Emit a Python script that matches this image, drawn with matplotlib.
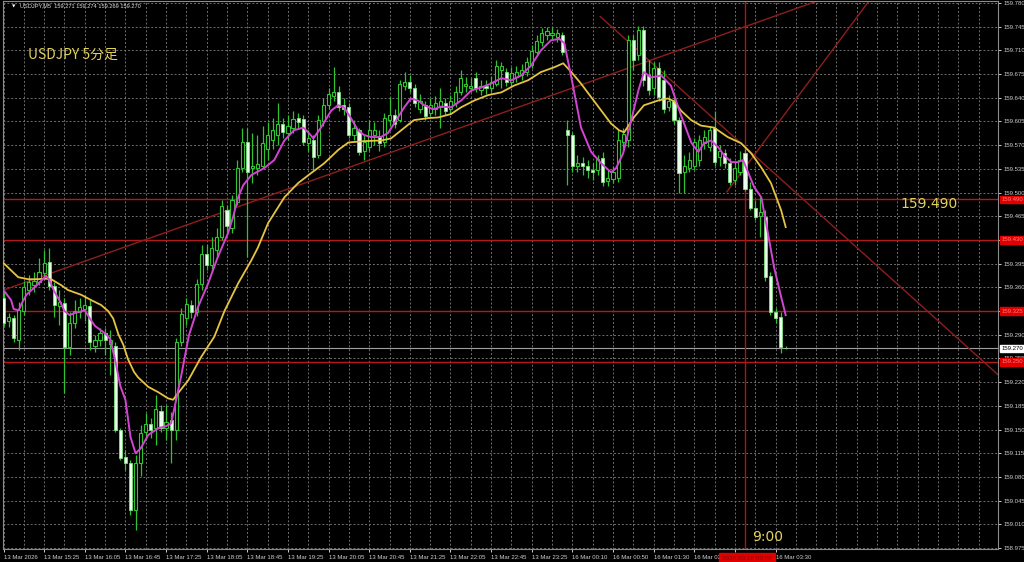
import matplotlib
matplotlib.use('Agg')
import matplotlib.pyplot as plt
import numpy as np

# USDJPY M5 bars, 13 Mar 14:45 -> 16 Mar 03:40 (server time)
opens = [159.344, 159.311, 159.314, 159.282, 159.325, 159.356, 159.363, 159.368, 159.381, 159.397,
         159.362, 159.332, 159.337, 159.272, 159.307, 159.323, 159.328, 159.332, 159.273, 159.282,
         159.292, 159.277, 159.274, 159.149, 159.109, 159.100, 159.031, 159.100, 159.146, 159.158,
         159.152, 159.178, 159.152, 159.164, 159.149, 159.279, 159.314, 159.334, 159.323, 159.365,
         159.410, 159.393, 159.415, 159.435, 159.474, 159.448, 159.486, 159.536, 159.574, 159.536,
         159.537, 159.539, 159.565, 159.577, 159.585, 159.602, 159.588, 159.595, 159.610, 159.608,
         159.573, 159.577, 159.555, 159.605, 159.630, 159.642, 159.649, 159.629, 159.626, 159.585,
         159.592, 159.562, 159.568, 159.585, 159.583, 159.574, 159.607, 159.614, 159.607, 159.658,
         159.663, 159.654, 159.624, 159.630, 159.618, 159.624, 159.627, 159.633, 159.624, 159.633,
         159.648, 159.657, 159.654, 159.669, 159.652, 159.658, 159.654, 159.661, 159.681, 159.678,
         159.664, 159.670, 159.673, 159.678, 159.688, 159.708, 159.722, 159.733, 159.733, 159.730,
         159.733, 159.592, 159.585, 159.540, 159.543, 159.540, 159.534, 159.533, 159.551, 159.517,
         159.520, 159.521, 159.574, 159.577, 159.725, 159.703, 159.740, 159.673, 159.654, 159.684,
         159.666, 159.627, 159.636, 159.607, 159.530, 159.537, 159.540, 159.548, 159.573, 159.567,
         159.595, 159.552, 159.558, 159.543, 159.518, 159.530, 159.558, 159.506, 159.477, 159.466,
         159.464, 159.377, 159.323, 159.316, 159.271]
highs = [159.356, 159.322, 159.319, 159.338, 159.370, 159.378, 159.382, 159.403, 159.415, 159.418,
         159.368, 159.356, 159.344, 159.323, 159.341, 159.344, 159.349, 159.341, 159.289, 159.300,
         159.300, 159.297, 159.279, 159.152, 159.120, 159.105, 159.112, 159.156, 159.174, 159.167,
         159.201, 159.186, 159.186, 159.176, 159.285, 159.329, 159.344, 159.341, 159.373, 159.422,
         159.422, 159.434, 159.448, 159.489, 159.481, 159.496, 159.548, 159.595, 159.596, 159.588,
         159.585, 159.599, 159.604, 159.610, 159.633, 159.610, 159.614, 159.621, 159.618, 159.614,
         159.592, 159.585, 159.614, 159.639, 159.654, 159.685, 159.658, 159.639, 159.632, 159.607,
         159.596, 159.585, 159.607, 159.604, 159.592, 159.618, 159.641, 159.624, 159.666, 159.678,
         159.673, 159.660, 159.645, 159.636, 159.639, 159.642, 159.654, 159.639, 159.644, 159.658,
         159.681, 159.670, 159.669, 159.678, 159.666, 159.666, 159.672, 159.696, 159.693, 159.684,
         159.685, 159.687, 159.690, 159.700, 159.718, 159.733, 159.743, 159.744, 159.744, 159.742,
         159.737, 159.607, 159.589, 159.555, 159.552, 159.548, 159.543, 159.555, 159.560, 159.533,
         159.540, 159.592, 159.595, 159.733, 159.733, 159.746, 159.746, 159.696, 159.693, 159.693,
         159.681, 159.644, 159.641, 159.611, 159.555, 159.560, 159.580, 159.585, 159.592, 159.599,
         159.621, 159.570, 159.565, 159.551, 159.545, 159.562, 159.565, 159.516, 159.489, 159.493,
         159.474, 159.382, 159.329, 159.323, 159.274]
lows = [159.303, 159.301, 159.279, 159.267, 159.319, 159.349, 159.353, 159.363, 159.373, 159.356,
        159.316, 159.304, 159.204, 159.260, 159.300, 159.314, 159.311, 159.267, 159.264, 159.274,
        159.260, 159.230, 159.146, 159.105, 159.090, 159.024, 159.002, 159.082, 159.134, 159.137,
        159.127, 159.146, 159.134, 159.100, 159.134, 159.274, 159.304, 159.314, 159.317, 159.356,
        159.385, 159.382, 159.403, 159.430, 159.441, 159.441, 159.481, 159.530, 159.405, 159.514,
        159.526, 159.536, 159.548, 159.565, 159.570, 159.580, 159.577, 159.588, 159.595, 159.570,
        159.562, 159.533, 159.551, 159.598, 159.624, 159.636, 159.621, 159.614, 159.580, 159.577,
        159.555, 159.548, 159.562, 159.570, 159.562, 159.568, 159.599, 159.595, 159.604, 159.651,
        159.648, 159.627, 159.618, 159.607, 159.613, 159.615, 159.596, 159.614, 159.618, 159.627,
        159.644, 159.648, 159.648, 159.648, 159.644, 159.646, 159.648, 159.657, 159.655, 159.657,
        159.658, 159.663, 159.666, 159.672, 159.684, 159.703, 159.716, 159.725, 159.725, 159.722,
        159.703, 159.511, 159.530, 159.530, 159.526, 159.521, 159.518, 159.526, 159.509, 159.509,
        159.514, 159.516, 159.562, 159.567, 159.681, 159.696, 159.658, 159.644, 159.644, 159.636,
        159.618, 159.621, 159.602, 159.500, 159.500, 159.530, 159.533, 159.540, 159.565, 159.562,
        159.540, 159.540, 159.536, 159.511, 159.511, 159.526, 159.503, 159.474, 159.459, 159.434,
        159.370, 159.319, 159.308, 159.263, 159.269]
closes = [159.308, 159.316, 159.285, 159.326, 159.360, 159.368, 159.370, 159.382, 159.396, 159.362,
          159.334, 159.338, 159.272, 159.307, 159.325, 159.331, 159.334, 159.279, 159.282, 159.292,
          159.282, 159.282, 159.149, 159.108, 159.100, 159.031, 159.100, 159.145, 159.158, 159.149,
          159.181, 159.152, 159.161, 159.149, 159.279, 159.320, 159.335, 159.323, 159.365, 159.410,
          159.393, 159.418, 159.435, 159.480, 159.451, 159.489, 159.536, 159.574, 159.530, 159.540,
          159.542, 159.573, 159.585, 159.592, 159.602, 159.589, 159.599, 159.608, 159.604, 159.574,
          159.580, 159.552, 159.607, 159.630, 159.645, 159.649, 159.626, 159.624, 159.585, 159.595,
          159.560, 159.574, 159.592, 159.592, 159.573, 159.610, 159.615, 159.602, 159.660, 159.664,
          159.654, 159.632, 159.635, 159.613, 159.629, 159.632, 159.636, 159.621, 159.635, 159.649,
          159.669, 159.661, 159.658, 159.654, 159.658, 159.654, 159.663, 159.687, 159.687, 159.663,
          159.676, 159.678, 159.681, 159.693, 159.709, 159.724, 159.736, 159.739, 159.736, 159.736,
          159.708, 159.585, 159.540, 159.543, 159.539, 159.533, 159.530, 159.549, 159.516, 159.521,
          159.530, 159.577, 159.586, 159.725, 159.696, 159.740, 159.666, 159.651, 159.684, 159.641,
          159.624, 159.636, 159.607, 159.529, 159.540, 159.548, 159.574, 159.577, 159.582, 159.592,
          159.545, 159.562, 159.543, 159.516, 159.536, 159.548, 159.506, 159.477, 159.464, 159.471,
          159.375, 159.323, 159.314, 159.272, 159.270]

# fast MA (magenta) at bar positions
ma_fast_x = [0, 1.5, 2, 3, 3.5, 4.5, 6.4, 8.4, 9, 10, 11, 12, 13, 14, 16, 17, 18, 20, 21, 22, 23, 24,
             25, 26, 27, 28.5, 30.5, 32, 33, 34, 35, 36.5, 38.3, 40.3, 42.2, 44.2, 45.2, 46.2, 47.2,
             48.8, 51.3, 53.3, 55.3, 57.2, 59, 60, 61, 62.5, 64.5, 65.9, 67, 68.4, 69.8, 71, 72.4,
             74.3, 75.7, 76.9, 78.9, 80.2, 81.6, 82.8, 84.6, 86.2, 88.1, 90.1, 92.1, 94, 96, 98, 100,
             101.9, 103.9, 105.8, 107.8, 109.4, 110.4, 111.8, 113.7, 115.7, 117.7, 119.6, 120.6, 122,
             123.2, 125, 126.1, 127.5, 129.5, 131.4, 133.4, 135.4, 136.8, 137.9, 139.3, 140.7, 141.9,
             143.3, 144.6, 145.6, 146.6, 147.8, 149.2, 150.5, 151.7, 153.1, 154]
ma_fast_y = [159.356, 159.341, 159.328, 159.326, 159.335, 159.349, 159.362, 159.377, 159.371, 159.354,
             159.341, 159.325, 159.319, 159.322, 159.326, 159.314, 159.303, 159.292, 159.284, 159.252,
             159.214, 159.194, 159.139, 159.115, 159.122, 159.142, 159.152, 159.155, 159.159, 159.194,
             159.230, 159.289, 159.331, 159.366, 159.405, 159.440, 159.464, 159.493, 159.511, 159.526,
             159.536, 159.548, 159.577, 159.592, 159.596, 159.589, 159.580, 159.596, 159.621, 159.629,
             159.626, 159.610, 159.592, 159.585, 159.582, 159.582, 159.588, 159.602, 159.626, 159.639,
             159.636, 159.629, 159.623, 159.627, 159.626, 159.636, 159.651, 159.655, 159.661, 159.669,
             159.666, 159.673, 159.688, 159.710, 159.725, 159.727, 159.721, 159.670, 159.596, 159.560,
             159.543, 159.530, 159.536, 159.558, 159.595, 159.651, 159.678, 159.670, 159.673, 159.658,
             159.614, 159.574, 159.560, 159.573, 159.577, 159.567, 159.555, 159.545, 159.545, 159.548,
             159.530, 159.508, 159.493, 159.440, 159.390, 159.346, 159.319]

# slow MA (yellow)
ma_slow_x = [0, 1.5, 2.9, 4.9, 6.8, 8, 9.4, 11.4, 12.7, 15.3, 17.3, 19.2, 20.6, 21.6, 22.6, 23.6, 24.5,
             25.7, 26.5, 28.5, 30.5, 32.4, 33.4, 34.4, 36.4, 38.9, 41.5, 43.5, 46.2, 48.8, 50.1, 52.1,
             55.3, 58, 60.6, 63.1, 65.9, 67.9, 71, 74.4, 76.3, 78.3, 80.8, 83.6, 85.6, 88.1, 90.1, 92.7,
             95.4, 98, 100.5, 103.3, 105.8, 108.4, 110.2, 111.8, 113.7, 115.7, 117.7, 119.6, 121.2,
             122.2, 124.1, 126.1, 128.9, 130.8, 132, 133.4, 135.4, 137.3, 139.9, 142.6, 145.2, 147.2,
             149.2, 151.1, 153.1, 154]
ma_slow_y = [159.396, 159.385, 159.375, 159.372, 159.372, 159.373, 159.372, 159.363, 159.356, 159.349,
             159.341, 159.334, 159.325, 159.314, 159.291, 159.275, 159.254, 159.235, 159.227, 159.213,
             159.205, 159.196, 159.194, 159.204, 159.223, 159.257, 159.287, 159.325, 159.366, 159.400,
             159.419, 159.455, 159.493, 159.514, 159.529, 159.543, 159.563, 159.574, 159.576, 159.577,
             159.580, 159.592, 159.607, 159.610, 159.611, 159.616, 159.626, 159.636, 159.644, 159.648,
             159.658, 159.666, 159.678, 159.685, 159.691, 159.678, 159.661, 159.641, 159.621, 159.602,
             159.592, 159.589, 159.611, 159.629, 159.636, 159.639, 159.635, 159.621, 159.607, 159.599,
             159.596, 159.582, 159.573, 159.558, 159.537, 159.514, 159.474, 159.449]

hlines = [159.490, 159.430, 159.325, 159.250]
bid = 159.270

# trend lines: two points (bar, price)
trend_long = [(0, 159.356), (160.6, 159.784)]
trend_down = [(117.5, 159.760), (195.8, 159.231)]
trend_steep = [(142.4, 159.501), (170.5, 159.784)]
vline_bar = 146

time_ticks = [0, 8, 16, 24, 32, 40, 48, 56, 64, 72, 80, 88, 96, 104, 112, 120, 128, 136, 144, 152]
time_labels = ['13 Mar 2026', '13 Mar 15:25', '13 Mar 16:05', '13 Mar 16:45', '13 Mar 17:25',
               '13 Mar 18:05', '13 Mar 18:45', '13 Mar 19:25', '13 Mar 20:05', '13 Mar 20:45',
               '13 Mar 21:25', '13 Mar 22:05', '13 Mar 22:45', '13 Mar 23:25', '16 Mar 00:10',
               '16 Mar 00:50', '16 Mar 01:30', '16 Mar 02:10', '16 Mar 02:50', '16 Mar 03:30']
price_ticks = [158.975, 159.010, 159.045, 159.080, 159.115, 159.150, 159.185, 159.220, 159.255,
               159.290, 159.325, 159.360, 159.395, 159.430, 159.465, 159.500, 159.535, 159.570,
               159.605, 159.640, 159.675, 159.710, 159.745, 159.780]

GREEN = '#2fc42f'
RED_LINE = '#b01a1a'
TREND = '#8e1e1e'
YEL = '#e2d25a'
SMALL = 'Liberation Sans'
cjk = ['Noto Sans CJK JP', 'DejaVu Sans']

fig = plt.figure(figsize=(10.24, 5.62), dpi=100, facecolor='black')
ax = fig.add_axes([3/1024, 13/562, 995/1024, 548/562])
ax.set_facecolor('black')
ax.set_xlim(-0.1, 195.8)
ax.set_ylim(158.9735, 159.783)

# grid
for p in price_ticks:
    ax.axhline(p, color='#6e6e6e', lw=0.7, ls=(0, (2, 2)), zorder=1)
for b in range(0, 196, 4):
    ax.axvline(b, color='#6e6e6e', lw=0.7, ls=(0, (2, 2)), zorder=1)

# objects
for p in hlines:
    ax.axhline(p, color=RED_LINE, lw=1.0, zorder=2)
ax.axhline(bid, color='#a0a0a0', lw=0.8, zorder=2)
ax.axline(trend_long[0], trend_long[1], color=TREND, lw=1.0, zorder=2)
ax.plot(*zip(*trend_down), color=TREND, lw=1.0, zorder=2)
ax.plot(*zip(*trend_steep), color=TREND, lw=1.0, zorder=2)
ax.axvline(vline_bar, color='#a51616', lw=1.0, zorder=2)

# candles
o = np.array(opens); h = np.array(highs); l = np.array(lows); c = np.array(closes)
x = np.arange(len(o))
up = c >= o
lo = np.minimum(o, c)
ht = np.maximum(np.abs(c - o), 0.0008)
ax.vlines(x, l, h, color=GREEN, lw=0.9, zorder=3)
ax.bar(x[up], ht[up], bottom=lo[up], width=0.62, facecolor='black', edgecolor=GREEN, lw=0.8, zorder=4)
ax.bar(x[~up], ht[~up], bottom=lo[~up], width=0.62, facecolor='#eaffea', edgecolor='#7fe07f', lw=0.6, zorder=4)

# moving averages
ax.plot(ma_slow_x, ma_slow_y, color='#e6c440', lw=1.3, zorder=5)
ax.plot(ma_fast_x, ma_fast_y, color='#d444d4', lw=1.4, zorder=6)

# axes styling
for s in ax.spines.values():
    s.set_color('#8c8c8c')
    s.set_linewidth(0.8)
ax.yaxis.tick_right()
ax.set_yticks(price_ticks)
# labels hidden under the red price boxes are left blank
ylabels = ['' if min(abs(p - q) for q in hlines) < 0.002 else f'{p:.3f}' for p in price_ticks]
ax.set_yticklabels(ylabels, family=SMALL)
ax.set_xticks(time_ticks)
xlabels = ['' if abs(t - vline_bar) < 3 else s for t, s in zip(time_ticks, time_labels)]
ax.set_xticklabels(xlabels, family=SMALL)
for t in ax.get_xticklabels():
    t.set_ha('left')
ax.tick_params(axis='both', colors='#cfcfcf', labelsize=4.3, length=2.5, width=0.7, pad=1.5)
ax.tick_params(axis='y', pad=1.5)

# price labels on the axis
for p in hlines:
    ax.annotate(f'{p:.3f}', xy=(1.0, p), xycoords=('axes fraction', 'data'), xytext=(2.5, 0),
                textcoords='offset points', va='center', ha='left', fontsize=4.3, family=SMALL,
                color='#ff7a7a', annotation_clip=False, zorder=10,
                bbox=dict(boxstyle='square,pad=0.2', fc='#e00000', ec='#e00000'))
ax.annotate(f'{bid:.3f}', xy=(1.0, bid), xycoords=('axes fraction', 'data'), xytext=(2.5, 0),
            textcoords='offset points', va='center', ha='left', fontsize=4.3, family=SMALL,
            color='black', annotation_clip=False, zorder=10,
            bbox=dict(boxstyle='square,pad=0.2', fc='white', ec='white'))
ax.annotate('2026.03.16 03:00', xy=(vline_bar, 0), xycoords=('data', 'axes fraction'), xytext=(1.5, -6.5),
            textcoords='offset points', va='center', ha='center', fontsize=4.6, family=SMALL,
            color='#8a0000', annotation_clip=False, zorder=10,
            bbox=dict(boxstyle='square,pad=0.45', fc='#e00000', ec='#e00000'))

# texts
fig.text(12/1024, 1 - 6/562, '\u25BC', fontsize=3.2, color='white', va='center')
fig.text(20/1024, 1 - 6/562, 'USDJPY,M5  159.271 159.274 159.269 159.270', fontsize=4.1,
         family=SMALL, color='#e0e0e0', va='center')
fig.text(28/1024, 1 - 55/562, 'USDJPY 5分足', fontsize=10, color=YEL, va='center', family=cjk)
fig.text(900/1024, 1 - 204/562, '159.490', fontsize=10, color=YEL, va='center')
fig.text(752/1024, 1 - 537/562, '9:00', fontsize=10, color=YEL, va='center')

fig.savefig('out.png', dpi=100, facecolor='black')
